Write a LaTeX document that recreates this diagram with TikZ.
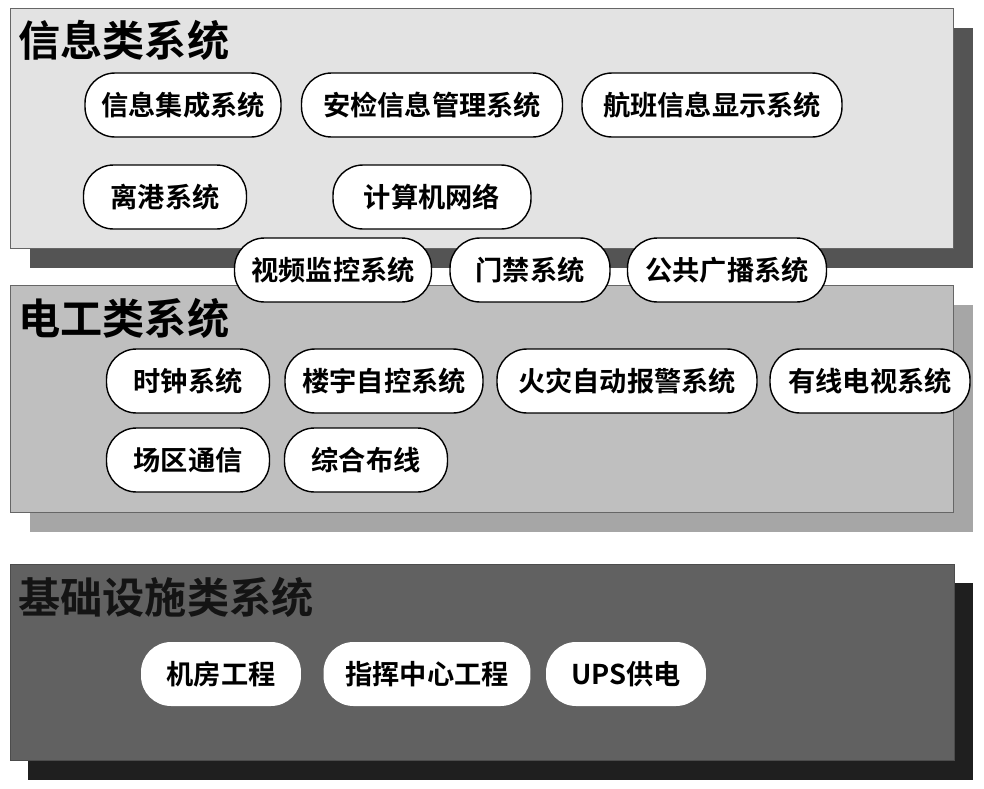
\documentclass[tikz,border=0pt]{standalone}
\usepackage{fontspec}
\setmainfont{Noto Sans CJK SC}[BoldFont={Noto Sans CJK SC Bold}]
\usetikzlibrary{positioning}

\begin{document}
\begin{tikzpicture}[x=0.02cm, y=-0.02cm,
    pill/.style={draw=black, line width=0.8pt, fill=white, rounded corners=0.6cm,
        minimum height=1.28cm, inner sep=0pt, font=\bfseries\fontsize{15.5}{15.5}\selectfont},
    grouptitle/.style={anchor=west, inner sep=0pt, font=\bfseries\fontsize{24}{24}\selectfont}]
    % --- CANVAS ---
    \useasboundingbox (0,0) rectangle (984,788);
    \fill[white] (0,0) rectangle (984,788);

    % --- GROUP BOXES (shadow first, then front) ---
    % information systems
    \fill[black!67] (30,28) rectangle (973,268);
    \draw[black!60, fill=black!11] (10,8) rectangle (953,248);
    % electrical systems
    \fill[black!35] (30,305) rectangle (973,532);
    \draw[black!60, fill=black!25] (10,285) rectangle (953,512);
    % infrastructure systems
    \fill[black!88] (28,583) rectangle (973,780);
    \draw[black!70, fill=black!62] (10,564) rectangle (954,760);

    % --- TITLES ---
    \node[grouptitle] (xinxi) at (18,40) {信息类系统};
    \node[grouptitle] (diangong) at (18,318) {电工类系统};
    \node[grouptitle, text=black!92] (jichu) at (18,597) {基础设施类系统};

    % --- INFORMATION SYSTEMS ---
    \node[pill, minimum width=3.92cm] (jicheng) at (183,105) {信息集成系统};
    \node[pill, minimum width=5.22cm] (anjian) at (432,105) {安检信息管理系统};
    \node[pill, minimum width=5.20cm] (hangban) at (712,105) {航班信息显示系统};
    \node[pill, minimum width=3.26cm] (ligang) at (165,197) {离港系统};
    \node[pill, minimum width=3.96cm] (wangluo) at (432,197) {计算机网络};

    % --- SHARED SYSTEMS (between the two boxes) ---
    \node[pill, minimum width=3.94cm] (shipin) at (333,270) {视频监控系统};
    \node[pill, minimum width=3.20cm] (menjin) at (530,270) {门禁系统};
    \node[pill, minimum width=3.98cm] (guangbo) at (727,270) {公共广播系统};

    % --- ELECTRICAL SYSTEMS ---
    \node[pill, minimum width=3.26cm] (shizhong) at (188,381) {时钟系统};
    \node[pill, minimum width=3.96cm] (louyu) at (384,381) {楼宇自控系统};
    \node[pill, minimum width=5.20cm] (huozai) at (627,381) {火灾自动报警系统};
    \node[pill, minimum width=4.00cm] (youxian) at (870,381) {有线电视系统};
    \node[pill, minimum width=3.26cm] (changqu) at (188,460) {场区通信};
    \node[pill, minimum width=3.26cm] (buxian) at (366,460) {综合布线};

    % --- INFRASTRUCTURE SYSTEMS ---
    \node[pill, draw=none, minimum width=3.20cm] (jifang) at (221,674) {机房工程};
    \node[pill, draw=none, minimum width=4.14cm] (zhihui) at (427,674) {指挥中心工程};
    \node[pill, draw=none, minimum width=3.20cm] (ups) at (626,674) {UPS供电};
\end{tikzpicture}
\end{document}
